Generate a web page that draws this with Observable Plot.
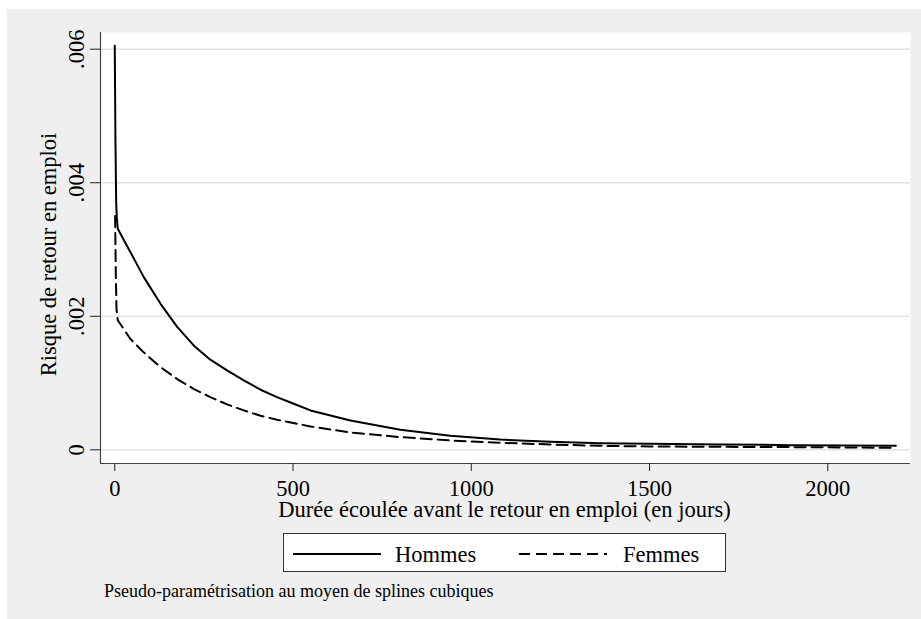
<!DOCTYPE html>
<html>
<head>
<meta charset="utf-8">
<script src="https://cdn.jsdelivr.net/npm/d3@7"></script>
<script src="https://cdn.jsdelivr.net/npm/@observablehq/plot@0.6"></script>
<style>
  html, body { margin: 0; padding: 0; background: white; }
  body { width: 921px; height: 619px; position: relative; overflow: hidden; font-family: "Liberation Serif", "Times New Roman", serif; }
  #bg { position: absolute; left: 7px; top: 9px; width: 914px; height: 610px; background: #efefef; }
  #chart { position: absolute; left: 0; top: 0; }
  #legend { position: absolute; left: 283px; top: 533px; }
  #caption { position: absolute; left: 104px; top: 580px; font-size: 18px; line-height: 22px; color: #000; white-space: nowrap; }
</style>
</head>
<body>
<div id="bg"></div>
<div id="chart"></div>
<div id="legend"></div>
<div id="caption"></div>
<script>
// ---- Data ----
const daysHommes = [0, 2, 4, 6, 8.4, 44, 81, 128, 175, 222, 268, 315, 362, 409, 455, 502, 549, 661, 801, 941, 1081, 1222, 1362, 1500, 1700, 1900, 2050, 2191];
const riskHommes = [0.00605, 0.0046, 0.0037, 0.00345, 0.00331, 0.00296, 0.00259, 0.00219, 0.00184, 0.00156, 0.00135, 0.00119, 0.00104, 0.0009, 0.00079, 0.00069, 0.00059, 0.00044, 0.0003, 0.00021, 0.000154, 0.00012, 0.0001, 0.00009, 0.00008, 0.00007, 0.000065, 0.00006];
const daysFemmes = [1, 3, 5, 8.4, 44, 81, 128, 175, 222, 268, 315, 362, 409, 455, 549, 661, 801, 941, 1081, 1222, 1362, 1500, 1700, 1900, 2050, 2191];
const riskFemmes = [0.0035, 0.0026, 0.0021, 0.00194, 0.00166, 0.00146, 0.00124, 0.00106, 0.00091, 0.00079, 0.00068, 0.00059, 0.00051, 0.00045, 0.00035, 0.00026, 0.00019, 0.00014, 0.000105, 0.00008, 0.00006, 0.00005, 0.000045, 0.00004, 0.000035, 0.00003];

const xTicks = [0, 500, 1000, 1500, 2000];
const xTickLabels = ["0", "500", "1000", "1500", "2000"];
const yTicks = [0, 0.002, 0.004, 0.006];
const yTickLabels = ["0", ".002", ".004", ".006"];

const seriesNames = ["Hommes", "Femmes"];
const xTitle = "Durée écoulée avant le retour en emploi (en jours)";
const yTitle = "Risque de retour en emploi";
const captionText = "Pseudo-paramétrisation au moyen de splines cubiques";

// ---- Build tables ----
const hommes = daysHommes.map((d, i) => ({ day: d, risk: riskHommes[i] }));
const femmes = daysFemmes.map((d, i) => ({ day: d, risk: riskFemmes[i] }));

const FS = 22.5;
const xDomain = [-40, 2232];
const yDomain = [-0.000205, 0.00625];

const chart = Plot.plot({
  width: 921,
  height: 530,
  marginLeft: 100,
  marginRight: 11,
  marginTop: 32,
  marginBottom: 67,
  style: { background: "transparent", fontFamily: "Liberation Serif, Times New Roman, serif", fontSize: FS + "px", color: "black" },
  x: { domain: xDomain, label: null },
  y: { domain: yDomain, label: null },
  marks: [
    Plot.frame({ fill: "white", stroke: null }),
    Plot.gridY(yTicks, { stroke: "#e4e4e4", strokeOpacity: 1, strokeWidth: 1.6 }),
    Plot.ruleX([xDomain[0]], { stroke: "#444", strokeWidth: 1.2 }),
    Plot.ruleY([yDomain[0]], { stroke: "#444", strokeWidth: 1.2 }),
    Plot.axisY({
      ticks: yTicks,
      tickFormat: (d) => yTickLabels[yTicks.indexOf(d)],
      tickSize: 10,
      tickPadding: 7,
      tickRotate: -90,
      fontSize: FS,
      label: null,
      stroke: "#222"
    }),
    Plot.axisX({
      ticks: xTicks,
      tickFormat: (d) => xTickLabels[xTicks.indexOf(d)],
      tickSize: 8,
      tickPadding: 9,
      fontSize: FS,
      label: null,
      stroke: "#222"
    }),
    Plot.line(hommes, { x: "day", y: "risk", stroke: "black", strokeWidth: 2, strokeLinejoin: "round", curve: "linear" }),
    Plot.line(femmes, { x: "day", y: "risk", stroke: "black", strokeWidth: 2, strokeLinejoin: "round", strokeDasharray: "11,6", curve: "linear" }),
    Plot.text([yTitle], { frameAnchor: "left", dx: -44.5, dy: 6.5, rotate: -90, lineAnchor: "bottom", textAnchor: "middle", fontSize: FS, fill: "black" }),
    Plot.text([xTitle], { frameAnchor: "bottom", dx: -1, dy: 53, lineAnchor: "bottom", textAnchor: "middle", fontSize: FS, fill: "black" })
  ]
});
document.getElementById("chart").appendChild(chart);

// ---- Legend ----
const lw = 443, lh = 39;
const leg = d3.create("svg").attr("width", lw).attr("height", lh)
  .style("font-family", "Liberation Serif, Times New Roman, serif");
leg.append("rect").attr("x", 0.5).attr("y", 0.5).attr("width", lw - 1).attr("height", lh - 1)
  .attr("fill", "white").attr("stroke", "#333").attr("stroke-width", 1);
const items = [
  { name: seriesNames[0], x0: 10, x1: 98, tx: 112, dash: null },
  { name: seriesNames[1], x0: 236, x1: 324, tx: 340, dash: "11,6" }
];
for (const it of items) {
  const ln = leg.append("line").attr("x1", it.x0).attr("x2", it.x1).attr("y1", 21).attr("y2", 21)
    .attr("stroke", "black").attr("stroke-width", 2);
  if (it.dash) ln.attr("stroke-dasharray", it.dash);
  leg.append("text").attr("x", it.tx).attr("y", 28.5).attr("font-size", FS).attr("fill", "black").text(it.name);
}
document.getElementById("legend").appendChild(leg.node());

document.getElementById("caption").textContent = captionText;
</script>
</body>
</html>
